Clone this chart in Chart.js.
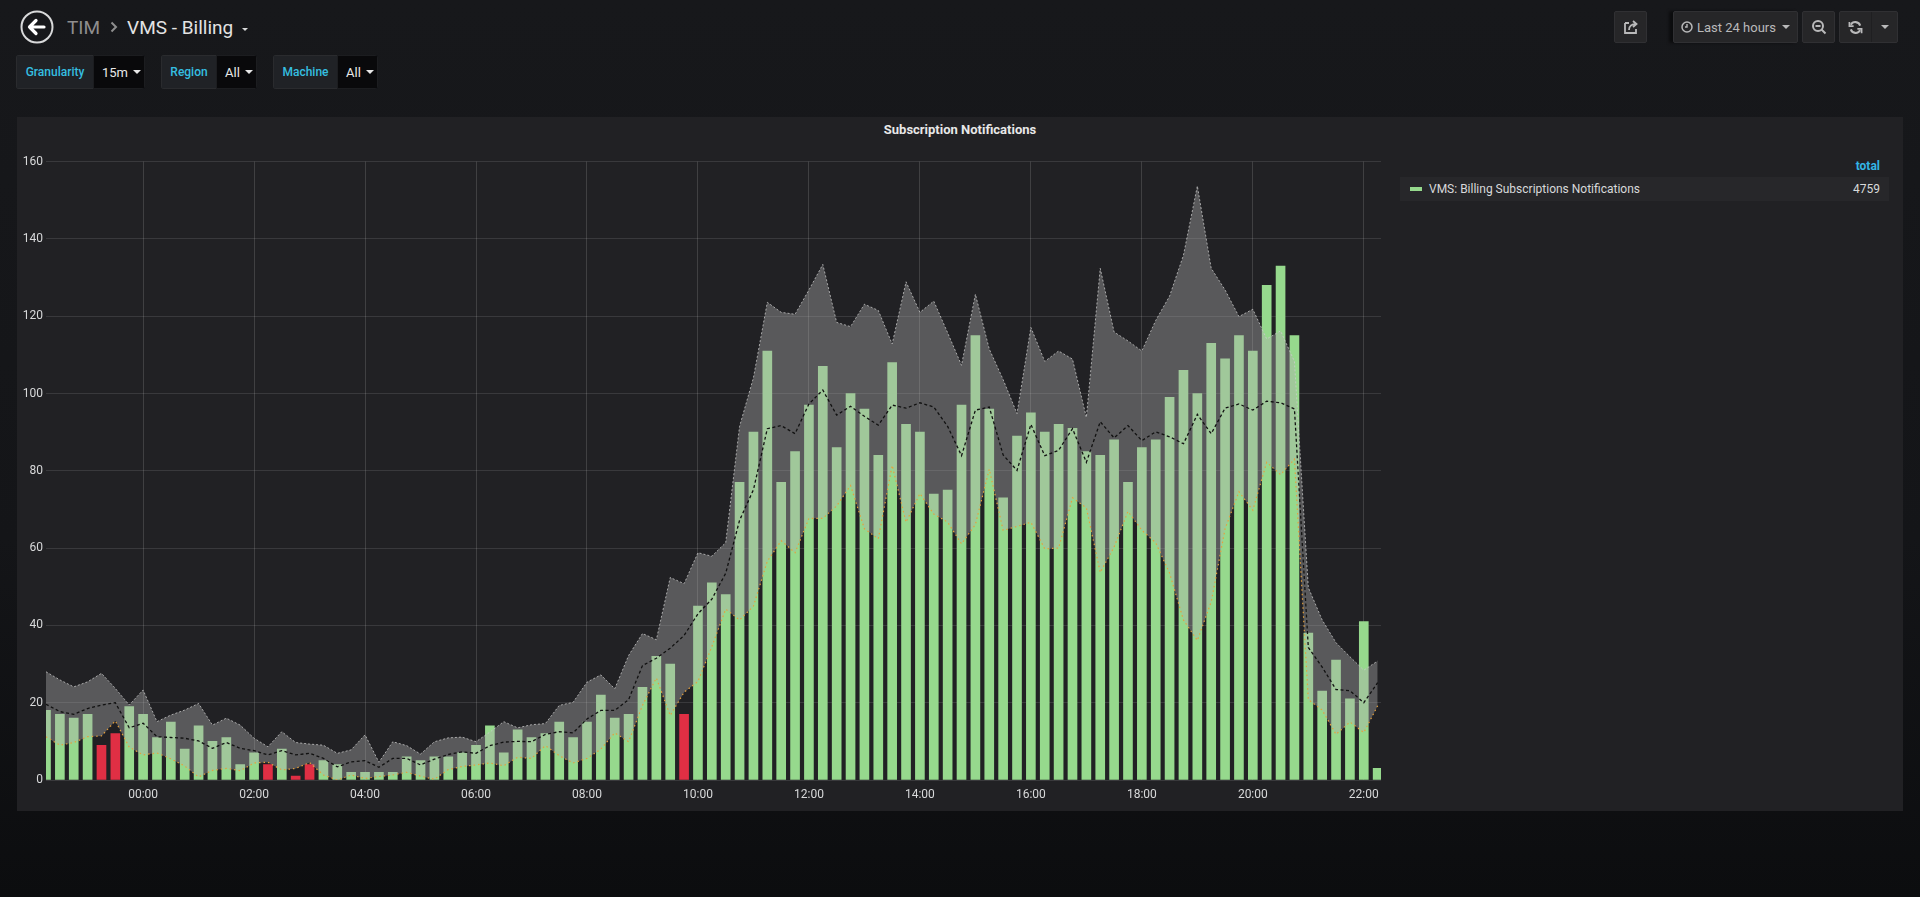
<!DOCTYPE html>
<html>
<head>
<meta charset="utf-8">
<script src="https://cdn.jsdelivr.net/npm/chart.js@4.4.0/dist/chart.umd.min.js"></script>
<style>
  body { margin: 0; width: 1920px; height: 897px; overflow: hidden; position: relative;
         background: linear-gradient(#17181b 0%, #141518 60%, #0c0d0f 100%);
         font-family: Roboto, "Noto Sans", Arial, sans-serif; color: #d8d9da; }
  .nav { position: absolute; left: 67px; top: 11px; height: 32px; display: flex; align-items: center; font-size: 19px; }
  .nav .crumb { color: #8e8e8e; }
  .nav .sep { margin: 0 9px 0 10px; display: flex; align-items: center; }
  .nav .title { color: #e3e3e3; }
  .nav .caret { margin-left: 9px; border-left: 3px solid transparent; border-right: 3px solid transparent; border-top: 3px solid #d8d9da; margin-top: 4px; }
  .back { position: absolute; left: 20px; top: 10px; }
  .var { position: absolute; top: 55px; height: 34px; display: flex; border-radius: 3px; overflow: hidden; font-size: 12px; }
  .var .lbl { background: #202226; color: #35bfe0; font-weight: 500; display: flex; align-items: center; justify-content: center; border: 1px solid #2a2b2e; border-right: none; box-sizing: border-box; }
  .var .val { background: #09090b; color: #e8e8e8; display: flex; align-items: center; padding-left: 8px; font-size: 13px; box-sizing: border-box; border: 1px solid #1c1d20; }
  .dd { display: inline-block; margin-left: 5px; border-left: 4px solid transparent; border-right: 4px solid transparent; border-top: 4px solid #e8e8e8; }
  .btn { position: absolute; top: 11px; height: 32px; background: #262628; border: 1px solid #303033; box-sizing: border-box; border-radius: 2px;
         display: flex; align-items: center; justify-content: center; color: #b9b9ba; font-size: 13px; }
  .panel { position: absolute; left: 17px; top: 117px; width: 1886px; height: 694px; background: #212124; }
  .ptitle { position: absolute; left: 0; right: 0; top: 5px; text-align: center; font-size: 13px; font-weight: 700; color: #e8e8e8; }
  .plot { position: absolute; left: 0; top: 33px; width: 1378px; height: 661px; }
  .lg-head { position: absolute; right: 23px; top: 42px; font-size: 12px; font-weight: 700; color: #33b5e5; }
  .lg-row { position: absolute; left: 1383px; top: 60px; width: 489px; height: 24px; background: #27272a; font-size: 12px; color: #d8d9da; }
  .lg-row .sw { position: absolute; left: 10px; top: 10px; width: 12px; height: 4px; }
  .lg-row .name { position: absolute; left: 29px; top: 5px; }
  .lg-row .tot { position: absolute; right: 9px; top: 5px; }
</style>
</head>
<body>
<svg class="back" width="34" height="34" viewBox="0 0 34 34">
  <circle cx="17" cy="17" r="15.5" fill="none" stroke="#d8d9da" stroke-width="2"/>
  <path d="M9.5 17 L16 10.5 M9.5 17 L16 23.5 M9.5 17 H24" stroke="#ffffff" stroke-width="3.2" fill="none" stroke-linecap="round" stroke-linejoin="round"/>
</svg>
<div class="nav"><span class="crumb">TIM</span><span class="sep"><svg width="8" height="12" viewBox="0 0 8 12"><path d="M1.5 1.5 L6 6 L1.5 10.5" stroke="#8e8e8e" stroke-width="2" fill="none"/></svg></span><span class="title">VMS - Billing</span><span class="caret"></span></div>

<div class="var" style="left:16px;width:129px"><div class="lbl" style="width:77px">Granularity</div><div class="val" style="width:52px">15m<span class="dd"></span></div></div>
<div class="var" style="left:161px;width:96px"><div class="lbl" style="width:55px">Region</div><div class="val" style="width:41px">All<span class="dd"></span></div></div>
<div class="var" style="left:273px;width:105px"><div class="lbl" style="width:64px">Machine</div><div class="val" style="width:41px">All<span class="dd"></span></div></div>

<div class="btn" style="left:1614px;width:33px">
  <svg width="16" height="16" viewBox="0 0 16 16"><path d="M2 4 h4 M2 4 v10 h11 v-4" stroke="#b9b9ba" stroke-width="1.8" fill="none"/><path d="M6 11 c0-4 3-6 7-6 M10 2 l3.5 3 -3.5 3" stroke="#b9b9ba" stroke-width="1.8" fill="none"/></svg>
</div>
<div class="btn" style="left:1673px;width:125px;box-shadow:-4px 0 3px rgba(0,0,0,0.5)">
  <svg width="12" height="12" viewBox="0 0 12 12" style="margin-right:4px"><circle cx="6" cy="6" r="5" stroke="#b9b9ba" stroke-width="1.5" fill="none"/><path d="M6 3 v3 h-2" stroke="#b9b9ba" stroke-width="1.4" fill="none"/></svg>
  Last 24 hours<span class="dd" style="border-top-color:#b9b9ba;margin-left:6px"></span>
</div>
<div class="btn" style="left:1802px;width:33px">
  <svg width="16" height="16" viewBox="0 0 16 16"><circle cx="7" cy="7" r="5" stroke="#b9b9ba" stroke-width="2" fill="none"/><path d="M4.5 7 h5 M10.5 10.5 l4 4" stroke="#b9b9ba" stroke-width="2"/></svg>
</div>
<div class="btn" style="left:1839px;width:59px;justify-content:flex-start">
  <div style="width:31px;display:flex;justify-content:center;border-right:1px solid #1f1f21;height:100%;align-items:center">
    <svg width="15" height="15" viewBox="0 0 16 16"><path d="M13 6 A5.5 5.5 0 0 0 3 5 M3 10 A5.5 5.5 0 0 0 13 11" stroke="#b9b9ba" stroke-width="2.2" fill="none"/><path d="M1.5 2 v4.5 h4.5 M14.5 14 v-4.5 h-4.5" stroke="#b9b9ba" stroke-width="1.8" fill="none"/></svg>
  </div>
  <div style="flex:1;display:flex;justify-content:center"><span class="dd" style="border-top-color:#b9b9ba;margin:0"></span></div>
</div>

<div class="panel">
  <div class="ptitle">Subscription Notifications</div>
  <div class="plot"><canvas id="chart"></canvas></div>
  <div class="lg-head">total</div>
  <div class="lg-row"><div class="sw" style="background:#96d98d"></div><span class="name">VMS: Billing Subscriptions Notifications</span><span class="tot" id="total"></span></div>
</div>

<script>
// 15 minute buckets, hours relative to midnight (first bucket is 22:15 the day before)
var slotStart = -1.75;
var slotHours = 0.25;

var notifications = [
  18, 17, 16, 17, 9, 12, 19, 17, 11, 15,
  8, 14, 10, 11, 4, 7, 4, 8, 1, 4,
  5, 4, 2, 2, 2, 2, 6, 5, 6, 6,
  7, 9, 14, 7, 13, 11, 12, 15, 11, 15,
  22, 16, 17, 24, 32, 30, 17, 45, 51, 48,
  77, 90, 111, 77, 85, 97, 107, 86, 100, 96,
  84, 108, 92, 90, 74, 75, 97, 115, 96, 73,
  89, 95, 90, 92, 91, 85, 84, 88, 77, 86,
  88, 99, 106, 100, 113, 109, 115, 111, 128, 133,
  115, 38, 23, 31, 21, 41, 3
];

var upperBound = [
  28.0, 25.9, 24.1, 25.4, 27.6, 23.7, 19.4, 23.3, 15.1, 16.8,
  18.1, 19.8, 14.2, 16.0, 14.2, 10.8, 8.6, 12.5, 9.7, 9.3,
  9.0, 6.9, 7.8, 11.7, 4.6, 9.9, 8.9, 6.7, 9.9, 10.9,
  11.1, 9.9, 12.4, 15.1, 13.5, 14.3, 14.6, 19.3, 20.1, 25.3,
  27.2, 23.6, 32.2, 37.9, 36.3, 52.4, 50.8, 58.8, 57.9, 61.4,
  91.5, 104.1, 123.6, 121.0, 120.5, 126.8, 133.4, 118.4, 117.3, 123.1,
  121.5, 112.8, 128.9, 121.0, 123.9, 115.7, 107.3, 125.7, 111.5, 103.6,
  94.8, 117.1, 108.3, 111.0, 108.9, 93.8, 132.4, 115.9, 113.6, 111.0,
  118.9, 125.2, 135.8, 153.7, 132.4, 126.8, 119.9, 121.8, 114.1, 116.2,
  108.3, 49.8, 41.4, 35.5, 31.9, 28.4, 30.8
];

var meanLine = [
  19.6, 17.7, 17.0, 18.5, 19.4, 20.0, 13.5, 14.7, 11.2, 11.0,
  10.8, 10.1, 8.2, 9.7, 8.2, 7.6, 6.5, 7.6, 6.5, 6.9,
  5.6, 3.4, 4.7, 5.0, 3.3, 5.6, 5.6, 3.9, 5.4, 6.6,
  7.3, 6.9, 8.9, 9.8, 10.0, 9.9, 11.8, 12.5, 12.2, 15.8,
  18.0, 18.0, 20.8, 29.6, 31.5, 34.1, 37.4, 43.0, 46.8, 53.5,
  67.2, 75.1, 90.9, 91.7, 89.6, 97.3, 100.9, 94.4, 96.7, 94.1,
  91.8, 97.0, 96.2, 97.6, 96.5, 91.5, 83.9, 95.7, 96.5, 84.1,
  80.1, 92.0, 83.9, 85.3, 90.9, 82.2, 92.7, 88.5, 91.7, 87.8,
  90.1, 88.8, 87.0, 94.6, 89.6, 96.2, 97.3, 95.7, 98.0, 97.6,
  96.0, 34.3, 29.2, 23.4, 23.1, 20.0, 25.2
];

var lowerBound = [
  11.2, 9.0, 9.7, 11.2, 11.4, 15.3, 8.5, 6.5, 7.0, 5.5,
  3.6, 0.8, 2.5, 3.0, 2.4, 4.4, 4.6, 2.6, 3.0, 4.5,
  1.3, 0.0, 1.3, 0.4, 0.9, 1.3, 2.0, 1.0, 0.2, 2.7,
  3.5, 3.9, 4.4, 3.7, 5.9, 5.6, 8.9, 6.3, 4.4, 5.6,
  8.0, 12.2, 9.9, 19.3, 26.4, 16.7, 22.7, 25.5, 34.5, 44.2,
  41.4, 45.0, 56.6, 61.9, 58.8, 67.7, 67.7, 70.9, 76.2, 65.0,
  62.4, 81.4, 66.7, 74.1, 68.8, 66.7, 61.1, 66.1, 80.4, 64.6,
  65.6, 66.7, 59.8, 60.0, 73.0, 70.4, 53.7, 60.3, 69.5, 64.6,
  61.4, 53.5, 41.4, 36.1, 46.1, 65.0, 74.6, 69.8, 82.2, 79.0,
  83.0, 20.8, 18.1, 11.8, 15.0, 12.3, 19.2
];

// buckets drawn in red
var alertSlots = [4, 5, 16, 18, 19, 46];

var tickHours = [0, 2, 4, 6, 8, 10, 12, 14, 16, 18, 20, 22];
var yMax = 160;
var yStep = 20;

var X_MIN = -1.75;
var X_MAX = 22.31;
var BAR_PX = 9;
var BAR_SHIFT = 0.081; // half a bar in hours: bars start at their timestamp

function pts(arr) {
  return arr.map(function (v, i) { return { x: slotStart + i * slotHours, y: v }; });
}

function hourTicks(scale) {
  scale.ticks = tickHours.map(function (h) { return { value: h }; });
}

document.getElementById('total').textContent = notifications.reduce(function (a, b) { return a + b; }, 0);

Chart.defaults.font.family = 'Roboto, "Noto Sans", Arial, sans-serif';
Chart.defaults.font.size = 12;
Chart.defaults.color = '#d8d9da';

var ctx = document.getElementById('chart').getContext('2d');
var chart = new Chart(ctx, {
  type: 'bar',
  data: {
    datasets: [
      {
        type: 'bar',
        label: 'VMS: Billing Subscriptions Notifications',
        data: pts(notifications),
        xAxisID: 'xBar',
        backgroundColor: function (c) { return alertSlots.indexOf(c.dataIndex) >= 0 ? '#e02f44' : '#96d98d'; },
        borderWidth: 0,
        barThickness: BAR_PX,
        order: 3
      },
      {
        type: 'line',
        label: 'upper',
        data: pts(upperBound),
        xAxisID: 'x',
        borderColor: 'rgba(205,205,205,0.75)',
        borderWidth: 1,
        borderDash: [2, 2],
        backgroundColor: 'rgba(175,175,175,0.4)',
        fill: '+1',
        pointRadius: 0,
        tension: 0,
        order: 2
      },
      {
        type: 'line',
        label: 'lower',
        data: pts(lowerBound),
        xAxisID: 'x',
        borderColor: '#e5a03c',
        borderWidth: 1.2,
        borderDash: [1.5, 3],
        fill: false,
        pointRadius: 0,
        tension: 0,
        order: 1
      },
      {
        type: 'line',
        label: 'mean',
        data: pts(meanLine),
        xAxisID: 'x',
        borderColor: '#111111',
        borderWidth: 1.3,
        borderDash: [3, 2.5],
        fill: false,
        pointRadius: 0,
        tension: 0,
        order: 1
      }
    ]
  },
  options: {
    responsive: true,
    maintainAspectRatio: false,
    animation: false,
    layout: { padding: { top: 11.6, right: 14, left: 0, bottom: 0 } },
    plugins: { legend: { display: false }, tooltip: { enabled: false } },
    scales: {
      x: {
        type: 'linear',
        offset: false,
        min: X_MIN,
        max: X_MAX,
        afterBuildTicks: hourTicks,
        afterFit: function (scale) { scale.height = 31; },
        ticks: {
          autoSkip: false,
          maxRotation: 0,
          padding: 8,
          color: '#d8d9da',
          callback: function (v) { return (v < 10 ? '0' : '') + v + ':00'; }
        },
        grid: { color: 'rgba(255,255,255,0.14)', drawTicks: false, offset: false },
        border: { display: false }
      },
      xBar: {
        type: 'linear',
        display: false,
        offset: false,
        grid: { offset: false },
        min: X_MIN - BAR_SHIFT,
        max: X_MAX - BAR_SHIFT,
        afterBuildTicks: hourTicks
      },
      y: {
        min: 0,
        max: yMax,
        afterFit: function (scale) { scale.width = 29; },
        ticks: { stepSize: yStep, padding: 3, color: '#d8d9da' },
        grid: { color: 'rgba(255,255,255,0.11)', drawTicks: false },
        border: { display: false }
      }
    }
  }
});
</script>
</body>
</html>
